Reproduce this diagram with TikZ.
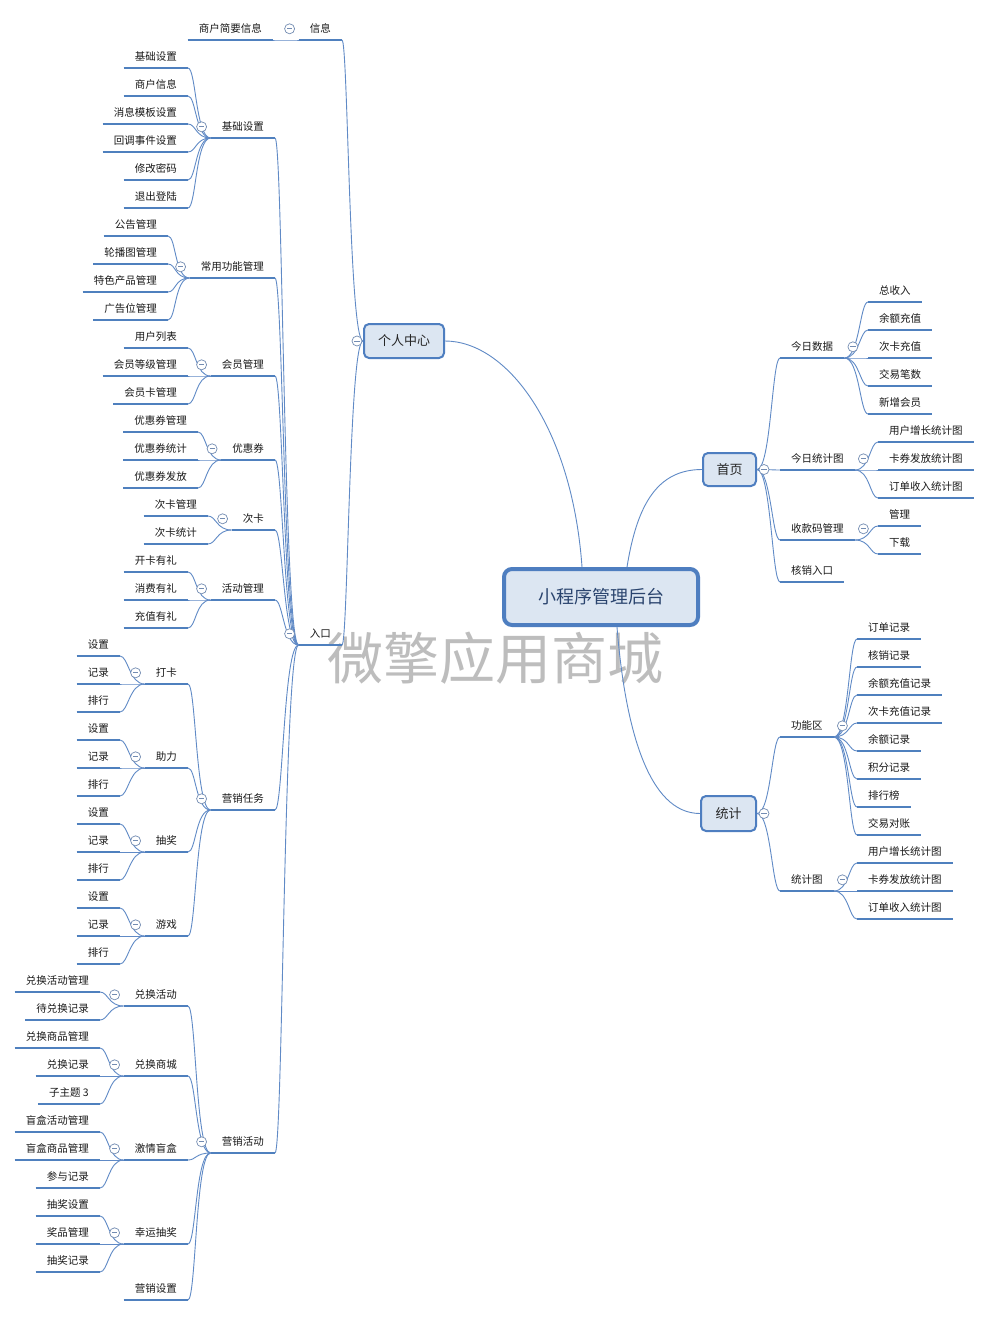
\documentclass[tikz,border=0pt]{standalone}
\usepackage{fontspec}
\setmainfont{Noto Sans CJK SC}
\definecolor{lc}{RGB}{96,138,198}
\definecolor{ul}{RGB}{79,128,190}
\definecolor{bx}{RGB}{220,230,242}
\definecolor{bxd}{RGB}{78,126,192}
\definecolor{tg}{RGB}{115,140,178}
\definecolor{rt}{RGB}{42,68,110}
\newcommand\mLT[4]{\node[topic,anchor=south east] (#1) at (#2,#3) {#4};}
\newcommand\mRT[4]{\node[topic,anchor=south west] (#1) at (#2,#3) {#4};}
\newcommand\mLC[2]{\draw[conn] (#1.south west) .. controls +(-15,0) and +(8,0) .. (#2.south east);}
\newcommand\mRC[2]{\draw[conn] (#1.south east) .. controls +(15,0) and +(-8,0) .. (#2.south west);}
\newcommand\mTL[1]{\node[tog] (#1-t) at ([xshift=-9pt]#1.west) {};}
\newcommand\mTR[1]{\node[tog] (#1-t) at ([xshift=8.5pt]#1.east) {};}
\begin{document}
\begin{tikzpicture}[x=1pt,y=-1pt,
 uline/.style={draw=ul,line width=2.6pt},
 topic/.style={inner xsep=11pt,inner ysep=0pt,minimum height=22pt,text height=9pt,text depth=1pt,
   font=\fontsize{10.5}{12}\selectfont,text=black!90,
   append after command={(\tikzlastnode.south west) edge[uline] (\tikzlastnode.south east)}},
 conn/.style={draw=lc,line width=0.9pt},
 tog/.style={circle,draw=tg,line width=0.7pt,fill=white,minimum size=10pt,inner sep=0pt,
   path picture={\draw[tg,line width=0.7pt] ([xshift=-2.6pt]path picture bounding box.center) -- ([xshift=2.6pt]path picture bounding box.center);}},
 box/.style={rounded corners=5pt,draw=bxd,line width=2pt,fill=bx,font=\fontsize{13}{15}\selectfont,text=black!85,inner sep=0pt},
 rootbox/.style={rounded corners=8pt,draw=bxd,line width=4pt,fill=bx,font=\fontsize{18}{20}\selectfont,text=rt,inner sep=0pt,minimum width=194pt,minimum height=56pt},
 wm/.style={font=\fontsize{56}{60}\selectfont,text=black!26,inner sep=0pt}]
\useasboundingbox[fill=white] (0,0) rectangle (988,1317);
% watermark
\node[wm] (wm) at (495,658) {微擎应用商城};
% boxes
\node[rootbox] (root) at (601,597) {小程序管理后台};
\node[box,minimum width=80pt,minimum height=34pt] (pc) at (404,341) {个人中心};
\node[box,minimum width=53pt,minimum height=33pt] (sy) at (729.5,469.5) {首页};
\node[box,minimum width=55pt,minimum height=35pt] (tj) at (728.5,813.5) {统计};
% left: 个人中心
\mLT{xx}{342}{40}{信息}
\mLT{shjy}{273}{40}{商户简要信息}
\mLT{rk}{342}{645}{入口}
\mLT{jcsz}{275}{138}{基础设置}
\mLT{cygn}{275}{278}{常用功能管理}
\mLT{hygl}{275}{376}{会员管理}
\mLT{yhq}{275}{460}{优惠券}
\mLT{ck}{275}{530}{次卡}
\mLT{hdgl}{275}{600}{活动管理}
\mLT{yxrw}{275}{810}{营销任务}
\mLT{yxhd}{275}{1153}{营销活动}
\mLT{a1}{188}{68}{基础设置}
\mLT{a2}{188}{96}{商户信息}
\mLT{a3}{188}{124}{消息模板设置}
\mLT{a4}{188}{152}{回调事件设置}
\mLT{a5}{188}{180}{修改密码}
\mLT{a6}{188}{208}{退出登陆}
\mLT{b1}{168}{236}{公告管理}
\mLT{b2}{168}{264}{轮播图管理}
\mLT{b3}{168}{292}{特色产品管理}
\mLT{b4}{168}{320}{广告位管理}
\mLT{c1}{188}{348}{用户列表}
\mLT{c2}{188}{376}{会员等级管理}
\mLT{c3}{188}{404}{会员卡管理}
\mLT{d1}{198}{432}{优惠券管理}
\mLT{d2}{198}{460}{优惠券统计}
\mLT{d3}{198}{488}{优惠券发放}
\mLT{e1}{208}{516}{次卡管理}
\mLT{e2}{208}{544}{次卡统计}
\mLT{f1}{188}{572}{开卡有礼}
\mLT{f2}{188}{600}{消费有礼}
\mLT{f3}{188}{628}{充值有礼}
\mLT{g1}{188}{684}{打卡}
\mLT{g2}{188}{768}{助力}
\mLT{g3}{188}{852}{抽奖}
\mLT{g4}{188}{936}{游戏}
\mLT{g1a}{120}{656}{设置}
\mLT{g1b}{120}{684}{记录}
\mLT{g1c}{120}{712}{排行}
\mLT{g2a}{120}{740}{设置}
\mLT{g2b}{120}{768}{记录}
\mLT{g2c}{120}{796}{排行}
\mLT{g3a}{120}{824}{设置}
\mLT{g3b}{120}{852}{记录}
\mLT{g3c}{120}{880}{排行}
\mLT{g4a}{120}{908}{设置}
\mLT{g4b}{120}{936}{记录}
\mLT{g4c}{120}{964}{排行}
\mLT{h1}{188}{1006}{兑换活动}
\mLT{h2}{188}{1076}{兑换商城}
\mLT{h3}{188}{1160}{激情盲盒}
\mLT{h4}{188}{1244}{幸运抽奖}
\mLT{h5}{188}{1300}{营销设置}
\mLT{h1a}{100}{992}{兑换活动管理}
\mLT{h1b}{100}{1020}{待兑换记录}
\mLT{h2a}{100}{1048}{兑换商品管理}
\mLT{h2b}{100}{1076}{兑换记录}
\mLT{h2c}{100}{1104}{子主题 3}
\mLT{h3a}{100}{1132}{盲盒活动管理}
\mLT{h3b}{100}{1160}{盲盒商品管理}
\mLT{h3c}{100}{1188}{参与记录}
\mLT{h4a}{100}{1216}{抽奖设置}
\mLT{h4b}{100}{1244}{奖品管理}
\mLT{h4c}{100}{1272}{抽奖记录}
% right: 首页 / 统计
\mRT{p1}{780}{358}{今日数据}
\mRT{p2}{780}{470}{今日统计图}
\mRT{p3}{780}{540}{收款码管理}
\mRT{p4}{780}{582}{核销入口}
\mRT{p1a}{868}{302}{总收入}
\mRT{p1b}{868}{330}{余额充值}
\mRT{p1c}{868}{358}{次卡充值}
\mRT{p1d}{868}{386}{交易笔数}
\mRT{p1e}{868}{414}{新增会员}
\mRT{p2a}{878}{442}{用户增长统计图}
\mRT{p2b}{878}{470}{卡券发放统计图}
\mRT{p2c}{878}{498}{订单收入统计图}
\mRT{p3a}{878}{526}{管理}
\mRT{p3b}{878}{554}{下载}
\mRT{q1}{780}{737}{功能区}
\mRT{q2}{780}{891}{统计图}
\mRT{q1a}{857}{639}{订单记录}
\mRT{q1b}{857}{667}{核销记录}
\mRT{q1c}{857}{695}{余额充值记录}
\mRT{q1d}{857}{723}{次卡充值记录}
\mRT{q1e}{857}{751}{余额记录}
\mRT{q1f}{857}{779}{积分记录}
\mRT{q1g}{857}{807}{排行榜}
\mRT{q1h}{857}{835}{交易对账}
\mRT{q2a}{857}{863}{用户增长统计图}
\mRT{q2b}{857}{891}{卡券发放统计图}
\mRT{q2c}{857}{919}{订单收入统计图}
% root connectors
\draw[conn] (pc.east) .. controls +(62,0) and +(-10,-140) .. ([xshift=-19pt]root.north);
\draw[conn] ([xshift=26pt]root.north) .. controls +(10,-62) and +(-45,0) .. (sy.west);
\draw[conn] ([xshift=16pt]root.south) .. controls +(8,100) and +(-52,0) .. (tj.west);
% box connectors
\foreach \c in {xx,rk} {\draw[conn] (pc.west) .. controls +(-14,0) and +(6,0) .. (\c.south east);}
\foreach \c in {p1,p2,p3,p4} {\draw[conn] (sy.east) .. controls +(14,0) and +(-8,0) .. (\c.south west);}
\foreach \c in {q1,q2} {\draw[conn] (tj.east) .. controls +(14,0) and +(-8,0) .. (\c.south west);}
% left connectors
\mLC{xx}{shjy}
\foreach \c in {jcsz,cygn,hygl,yhq,ck,hdgl,yxrw,yxhd} {\mLC{rk}{\c}}
\foreach \c in {a1,a2,a3,a4,a5,a6} {\mLC{jcsz}{\c}}
\foreach \c in {b1,b2,b3,b4} {\mLC{cygn}{\c}}
\foreach \c in {c1,c2,c3} {\mLC{hygl}{\c}}
\foreach \c in {d1,d2,d3} {\mLC{yhq}{\c}}
\foreach \c in {e1,e2} {\mLC{ck}{\c}}
\foreach \c in {f1,f2,f3} {\mLC{hdgl}{\c}}
\foreach \c in {g1,g2,g3,g4} {\mLC{yxrw}{\c}}
\foreach \p in {g1,g2,g3,g4} {\foreach \s in {a,b,c} {\mLC{\p}{\p\s}}}
\foreach \c in {h1,h2,h3,h4,h5} {\mLC{yxhd}{\c}}
\foreach \c in {h1a,h1b} {\mLC{h1}{\c}}
\foreach \p in {h2,h3,h4} {\foreach \s in {a,b,c} {\mLC{\p}{\p\s}}}
% right connectors
\foreach \s in {a,b,c,d,e} {\mRC{p1}{p1\s}}
\foreach \s in {a,b,c} {\mRC{p2}{p2\s}}
\foreach \s in {a,b} {\mRC{p3}{p3\s}}
\foreach \s in {a,b,c,d,e,f,g,h} {\mRC{q1}{q1\s}}
\foreach \s in {a,b,c} {\mRC{q2}{q2\s}}
% toggles
\node[tog] (pc-t) at ([xshift=-6pt]pc.west) {};
\node[tog] (sy-t) at ([xshift=7pt]sy.east) {};
\node[tog] (tj-t) at ([xshift=7pt]tj.east) {};
\foreach \n in {xx,rk,jcsz,cygn,hygl,yhq,ck,hdgl,yxrw,yxhd,g1,g2,g3,g4,h1,h2,h3,h4} {\mTL{\n}}
\foreach \n in {p1,p2,p3,q1,q2} {\mTR{\n}}
\end{tikzpicture}
\end{document}
